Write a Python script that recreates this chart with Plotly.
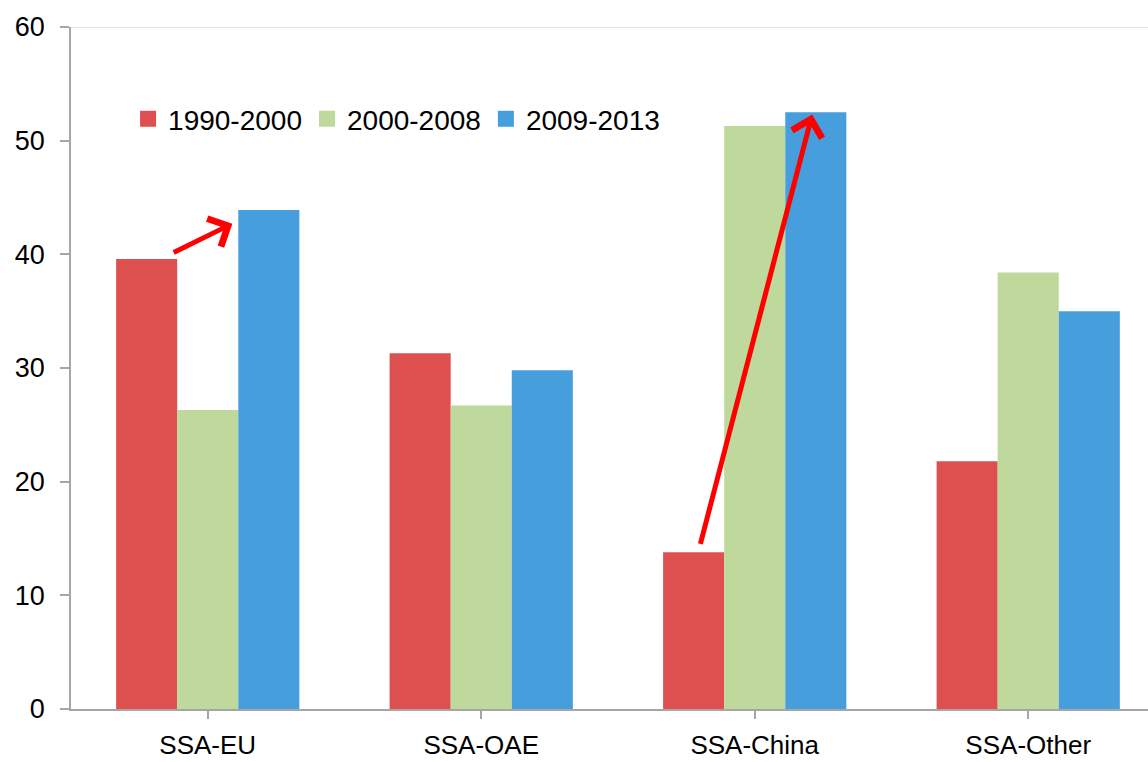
import plotly.graph_objects as go

# Trade shares by partner pair and period
categories = ["SSA-EU", "SSA-OAE", "SSA-China", "SSA-Other"]
periods = ["1990-2000", "2000-2008", "2009-2013"]
share_1990_2000 = [39.6, 31.3, 13.8, 21.8]
share_2000_2008 = [26.3, 26.7, 51.3, 38.4]
share_2009_2013 = [43.9, 29.8, 52.5, 35.0]
y_ticks = [0, 10, 20, 30, 40, 50, 60]

# Arrow endpoints (category index offset, value): tail -> head
eu_arrow = {"tail": (-0.13, 40.1), "head": (0.09, 42.7)}
china_arrow = {"tail": (1.80, 14.4), "head": (2.21, 52.3)}

colors = ["#DE5050", "#BFD89B", "#479EDC"]
FONT = "Liberation Sans, Arial, sans-serif"

fig = go.Figure()
for name, vals, col in zip(periods, [share_1990_2000, share_2000_2008, share_2009_2013], colors):
    fig.add_trace(go.Bar(
        x=list(range(len(categories))), y=vals, name=name, showlegend=False,
        marker=dict(color=col, line=dict(width=0)),
    ))
    # legend entry with a larger square swatch
    fig.add_trace(go.Scatter(
        x=[None], y=[None], mode="markers", name=name, showlegend=True,
        marker=dict(symbol="square", size=17, color=col, line=dict(width=0)),
    ))

for arr in (eu_arrow, china_arrow):
    fig.add_annotation(
        x=arr["head"][0], y=arr["head"][1], ax=arr["tail"][0], ay=arr["tail"][1],
        xref="x", yref="y", axref="x", ayref="y",
        text="", showarrow=True, arrowhead=4, arrowsize=1.2, arrowwidth=5,
        arrowcolor="#FF0000", standoff=0, startstandoff=0,
    )

# light frame line along the top of the plot area
fig.add_shape(type="line", xref="paper", x0=0, x1=1, yref="y", y0=60, y1=60,
              line=dict(color="#D9D9D9", width=1.5), layer="below")

fig.update_layout(
    width=1148, height=762,
    margin=dict(l=71, r=0, t=27, b=53),
    barmode="group", bargap=0.33, bargroupgap=0,
    plot_bgcolor="white", paper_bgcolor="white",
    font=dict(family=FONT, color="black", size=26),
    showlegend=True,
    legend=dict(
        orientation="h", x=0.053, xanchor="left", y=0.865, yanchor="middle",
        font=dict(size=28, family=FONT), bgcolor="rgba(0,0,0,0)",
        traceorder="normal", itemsizing="trace",
    ),
    xaxis=dict(
        tickmode="array", tickvals=list(range(len(categories))), ticktext=categories,
        range=[-0.5, 3.438], tickson="boundaries", ticks="outside", ticklen=8,
        tickcolor="#A6A6A6", tickwidth=1.5, showline=True, linecolor="#A6A6A6",
        linewidth=1.5, showgrid=False, zeroline=False, automargin=False,
        tickfont=dict(size=26, family=FONT), ticklabelstandoff=4,
    ),
    yaxis=dict(
        range=[0, 60], tickmode="array", tickvals=y_ticks, ticks="outside",
        ticklen=9, tickcolor="#A6A6A6", tickwidth=1.5, showline=True,
        linecolor="#A6A6A6", linewidth=1.5, showgrid=False, zeroline=False,
        automargin=False,
        tickfont=dict(size=27, family=FONT), ticklabelstandoff=10,
    ),
)

fig.write_html("out.html")
